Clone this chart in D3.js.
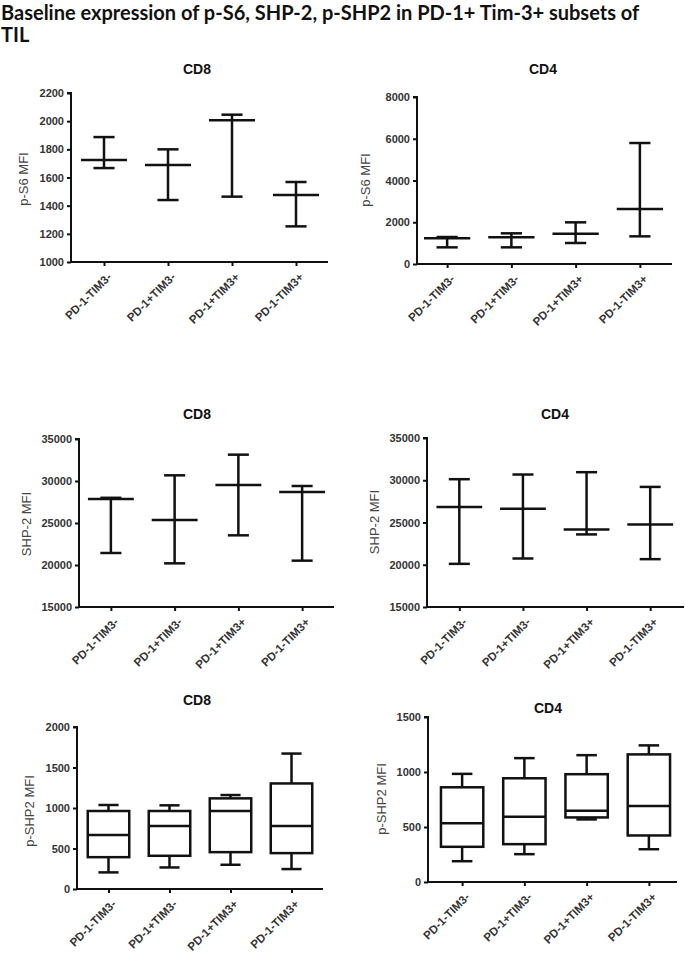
<!DOCTYPE html>
<html>
<head>
<meta charset="utf-8">
<script src="https://cdn.jsdelivr.net/npm/d3@7"></script>
<style>
  html, body { margin: 0; padding: 0; background: #fff; }
  svg { display: block; }
</style>
</head>
<body>
<svg id="chart" width="685" height="953"></svg>
<script>
// ---------------- DATA ----------------
const titleLines = ["Baseline expression of p-S6, SHP-2, p-SHP2 in PD-1+ Tim-3+ subsets of", "TIL"];
const categories = ["PD-1-TIM3-", "PD-1+TIM3-", "PD-1+TIM3+", "PD-1-TIM3+"];

// p-S6 (mean with range)
const pS6_CD8_mean  = [1724, 1689, 2006, 1476];
const pS6_CD8_upper = [1887, 1800, 2046, 1568];
const pS6_CD8_lower = [1667, 1440, 1464, 1253];
const pS6_CD8_ticks = [1000, 1200, 1400, 1600, 1800, 2000, 2200];

const pS6_CD4_mean  = [1230, 1277, 1453, 2635];
const pS6_CD4_upper = [1293, 1469, 1996, 5796];
const pS6_CD4_lower = [798, 798, 1006, 1325];
const pS6_CD4_ticks = [0, 2000, 4000, 6000, 8000];

// SHP-2 (mean with range)
const SHP2_CD8_mean  = [27850, 25357, 29524, 28690];
const SHP2_CD8_upper = [28000, 30675, 33135, 29405];
const SHP2_CD8_lower = [21429, 20198, 23532, 20516];
const SHP2_CD8_ticks = [15000, 20000, 25000, 30000, 35000];

const SHP2_CD4_mean  = [26837, 26639, 24185, 24778];
const SHP2_CD4_upper = [30123, 30677, 30954, 29212];
const SHP2_CD4_lower = [20107, 20740, 23590, 20661];
const SHP2_CD4_ticks = [15000, 20000, 25000, 30000, 35000];

// p-SHP2 (box and whiskers)
const pSHP2_CD8_min    = [205, 266, 299, 246];
const pSHP2_CD8_q1     = [393, 410, 455, 443];
const pSHP2_CD8_median = [668, 779, 963, 779];
const pSHP2_CD8_q3     = [963, 963, 1119, 1303];
const pSHP2_CD8_max    = [1037, 1033, 1160, 1672];
const pSHP2_CD8_ticks  = [0, 500, 1000, 1500, 2000];

const pSHP2_CD4_min    = [189, 253, 569, 298];
const pSHP2_CD4_q1     = [320, 344, 587, 423];
const pSHP2_CD4_median = [533, 593, 648, 691];
const pSHP2_CD4_q3     = [861, 943, 980, 1160];
const pSHP2_CD4_max    = [983, 1126, 1153, 1242];
const pSHP2_CD4_ticks  = [0, 500, 1000, 1500];

// ---------------- LAYOUT ----------------
const FONT = "'Liberation Sans', Arial, sans-serif";
const INK = "#111";
const svg = d3.select("#chart");

// main title
const tTitle = svg.append("g");
titleLines.forEach((t, i) => {
  tTitle.append("text")
    .attr("x", 1).attr("y", 20 + i * 22)
    .attr("font-family", "Lato, 'Open Sans', sans-serif")
    .attr("font-weight", 700)
    .attr("font-size", 18)
    .attr("fill", "#111")
    .text(t);
});
// fit first line to the page width
(function fit() {
  const first = tTitle.select("text").node();
  const w = first.getComputedTextLength();
  const target = 680;
  const fs = 18 * target / w;
  tTitle.selectAll("text").attr("font-size", Math.min(20, Math.max(15, fs)));
})();

const panels = [
  { kind: "err", title: "CD8", ylabel: "p-S6 MFI", tx: 197, ty: 69, x0: 71, x1: 328, xr: [72, 328], yTop: 93, yBot: 262,
    ticks: pS6_CD8_ticks, mean: pS6_CD8_mean, upper: pS6_CD8_upper, lower: pS6_CD8_lower, lx: 23, ly: 179 },
  { kind: "err", title: "CD4", ylabel: "p-S6 MFI", tx: 543, ty: 69, x0: 417, x1: 672, xr: [415, 672], yTop: 97, yBot: 264,
    ticks: pS6_CD4_ticks, mean: pS6_CD4_mean, upper: pS6_CD4_upper, lower: pS6_CD4_lower, lx: 365, ly: 180 },
  { kind: "err", title: "CD8", ylabel: "SHP-2 MFI", tx: 197, ty: 414, x0: 79, x1: 334, xr: [79, 334], yTop: 439, yBot: 607,
    ticks: SHP2_CD8_ticks, mean: SHP2_CD8_mean, upper: SHP2_CD8_upper, lower: SHP2_CD8_lower, lx: 26, ly: 524 },
  { kind: "err", title: "CD4", ylabel: "SHP-2 MFI", tx: 555, ty: 414, x0: 427, x1: 684, xr: [427.5, 682], yTop: 438, yBot: 607,
    ticks: SHP2_CD4_ticks, mean: SHP2_CD4_mean, upper: SHP2_CD4_upper, lower: SHP2_CD4_lower, lx: 374, ly: 522 },
  { kind: "box", title: "CD8", ylabel: "p-SHP2 MFI", tx: 197, ty: 700, x0: 77, x1: 323, xr: [78, 322], yTop: 727, yBot: 889,
    ticks: pSHP2_CD8_ticks, min: pSHP2_CD8_min, q1: pSHP2_CD8_q1, med: pSHP2_CD8_median, q3: pSHP2_CD8_q3, max: pSHP2_CD8_max, lx: 29, ly: 811 },
  { kind: "box", title: "CD4", ylabel: "p-SHP2 MFI", tx: 548, ty: 708, x0: 428, x1: 677, xr: [431, 680], yTop: 717, yBot: 882,
    ticks: pSHP2_CD4_ticks, min: pSHP2_CD4_min, q1: pSHP2_CD4_q1, med: pSHP2_CD4_median, q3: pSHP2_CD4_q3, max: pSHP2_CD4_max, lx: 381, ly: 799 }
];

panels.forEach(p => {
  const g = svg.append("g");
  const y = d3.scaleLinear().domain([p.ticks[0], p.ticks[p.ticks.length - 1]]).range([p.yBot, p.yTop]);
  const x = d3.scalePoint().domain(categories).range(p.xr).padding(0.5);
  const step = x.step();

  // title
  g.append("text").attr("x", p.tx).attr("y", p.ty).attr("dy", "0.35em")
    .attr("text-anchor", "middle").attr("font-family", FONT).attr("font-weight", 700)
    .attr("font-size", 14).attr("fill", "#111").text(p.title);

  // y label
  g.append("text").attr("transform", `translate(${p.lx},${p.ly}) rotate(-90)`).attr("dy", "0.35em")
    .attr("text-anchor", "middle").attr("font-family", FONT).attr("font-size", 13)
    .attr("fill", "#444").text(p.ylabel);

  // y axis
  const yAxis = d3.axisLeft(y).tickValues(p.ticks).tickSize(4).tickPadding(3).tickFormat(d3.format("d"));
  const ya = g.append("g").attr("transform", `translate(${p.x0},0)`).call(yAxis);
  ya.select(".domain").attr("stroke", INK).attr("stroke-width", 2).attr("d", `M-4,${p.yTop}H0V${p.yBot}`);
  ya.selectAll(".tick line").attr("stroke", INK).attr("stroke-width", 2);
  ya.selectAll(".tick text").attr("font-family", FONT).attr("font-weight", 700).attr("font-size", 11).attr("fill", "#333");

  // x axis
  const xAxis = d3.axisBottom(x).tickSize(4).tickPadding(2);
  const xa = g.append("g").attr("transform", `translate(0,${p.yBot})`).call(xAxis);
  xa.select(".domain").attr("stroke", INK).attr("stroke-width", 2).attr("d", `M${p.x0},0H${p.x1}`);
  xa.selectAll(".tick line").attr("stroke", INK).attr("stroke-width", 2);
  xa.selectAll(".tick text")
    .attr("font-family", FONT).attr("font-weight", 700).attr("font-size", 11.5).attr("fill", "#333")
    .attr("text-anchor", "end").attr("dy", "0.35em").attr("y", 0)
    .attr("transform", "translate(5,13) rotate(-45)");

  const line = (x1, y1, x2, y2) => g.append("line")
    .attr("x1", x1).attr("y1", y1).attr("x2", x2).attr("y2", y2)
    .attr("stroke", INK).attr("stroke-width", 2.5).attr("stroke-linecap", "butt");

  categories.forEach((c, i) => {
    const cx = x(c);
    if (p.kind === "err") {
      const mw = step * 0.72 / 2, cw = step * 0.33 / 2;
      line(cx, y(p.upper[i]), cx, y(p.lower[i]));
      line(cx - cw, y(p.upper[i]), cx + cw, y(p.upper[i]));
      line(cx - cw, y(p.lower[i]), cx + cw, y(p.lower[i]));
      line(cx - mw, y(p.mean[i]), cx + mw, y(p.mean[i]));
    } else {
      const bw = step * 0.68 / 2, cw = step * 0.33 / 2;
      line(cx, y(p.max[i]), cx, y(p.q3[i]));
      line(cx, y(p.q1[i]), cx, y(p.min[i]));
      line(cx - cw, y(p.max[i]), cx + cw, y(p.max[i]));
      line(cx - cw, y(p.min[i]), cx + cw, y(p.min[i]));
      g.append("rect").attr("x", cx - bw).attr("y", y(p.q3[i]))
        .attr("width", 2 * bw).attr("height", y(p.q1[i]) - y(p.q3[i]))
        .attr("fill", "none").attr("stroke", INK).attr("stroke-width", 2.5);
      line(cx - bw, y(p.med[i]), cx + bw, y(p.med[i]));
    }
  });
});
</script>
</body>
</html>
